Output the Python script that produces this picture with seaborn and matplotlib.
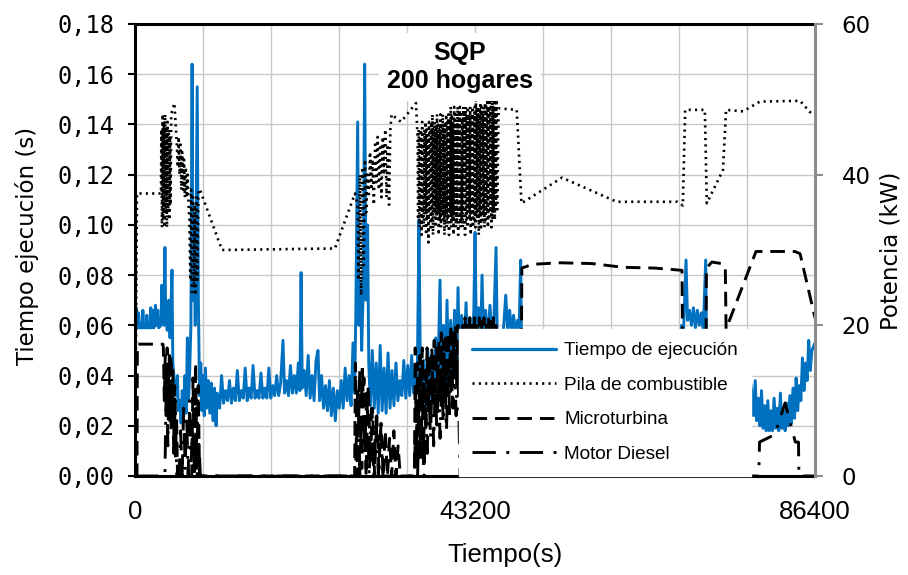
import numpy as np
import pandas as pd
import seaborn as sns
import matplotlib.pyplot as plt
from matplotlib.ticker import FuncFormatter
from matplotlib.lines import Line2D

# ---------------- data ----------------
# time axis (s) and execution time (s): (t, value) knots
exec_knots = [
    (0, 0.059), (150, 0.067), (300, 0.059), (450, 0.065), (600, 0.059), (900, 0.059),
    (1000, 0.066), (1100, 0.059), (1400, 0.059), (1500, 0.064), (1600, 0.059), (1900, 0.059),
    (2000, 0.067), (2100, 0.059), (2300, 0.066), (2400, 0.059), (2600, 0.068), (2700, 0.060),
    (2900, 0.066), (3000, 0.059), (3300, 0.060), (3400, 0.076), (3500, 0.062), (3700, 0.060),
    (3800, 0.091), (3900, 0.063), (4100, 0.058), (4300, 0.070), (4450, 0.055), (4700, 0.082),
    (4800, 0.045), (5000, 0.038), (5200, 0.032), (5400, 0.040), (5500, 0.026),
    (5700, 0.030), (5850, 0.021), (6000, 0.034), (6150, 0.023), (6350, 0.040), (6500, 0.025),
    (6650, 0.055), (6800, 0.030), (6950, 0.042), (7100, 0.060), (7250, 0.164), (7350, 0.070),
    (7500, 0.100), (7650, 0.060), (7900, 0.155), (8050, 0.070), (8200, 0.032), (8350, 0.045),
    (8500, 0.026), (8650, 0.040), (8800, 0.024), (8950, 0.043), (9100, 0.027), (9300, 0.038),
    (9500, 0.025), (9700, 0.037), (9900, 0.022), (10100, 0.035), (10300, 0.020), (10450, 0.033),
    (10750, 0.027), (11000, 0.040), (11250, 0.029), (11500, 0.034), (11750, 0.030), (12000, 0.038),
    (12250, 0.029), (12500, 0.035), (12750, 0.030), (13000, 0.042), (13250, 0.030), (13500, 0.034),
    (13750, 0.031), (14000, 0.043), (14250, 0.030), (14500, 0.035), (14750, 0.031), (15000, 0.044),
    (15250, 0.031), (15500, 0.034), (15750, 0.031), (16000, 0.041), (16250, 0.031), (16500, 0.035),
    (16750, 0.031), (17000, 0.043), (17250, 0.031), (17500, 0.036), (17750, 0.032), (18000, 0.040),
    (18250, 0.032), (18500, 0.037), (18800, 0.054), (19000, 0.033), (19250, 0.038), (19500, 0.032),
    (19750, 0.044), (20000, 0.033), (20250, 0.040), (20500, 0.033), (20750, 0.045), (20950, 0.034),
    (21100, 0.081), (21250, 0.035), (21500, 0.042), (21750, 0.032), (22000, 0.048), (22250, 0.031),
    (22500, 0.040), (22750, 0.030), (23000, 0.046), (23250, 0.050), (23450, 0.030),
    (23700, 0.040), (23950, 0.027), (24200, 0.036), (24450, 0.026), (24700, 0.038), (24950, 0.024),
    (25200, 0.035), (25450, 0.022), (25700, 0.034), (25950, 0.027),
    (26200, 0.038), (26450, 0.027), (26700, 0.043), (26950, 0.030), (27200, 0.040), (27450, 0.028),
    (27700, 0.053), (27900, 0.033), (28050, 0.063), (28290, 0.141), (28450, 0.060), (28650, 0.077),
    (28800, 0.050), (29000, 0.075), (29180, 0.164), (29350, 0.070), (29550, 0.100), (29700, 0.045),
    (29900, 0.028), (30150, 0.050), (30400, 0.027), (30650, 0.045), (30900, 0.025), (31150, 0.052),
    (31400, 0.026), (31650, 0.043), (31900, 0.025), (32150, 0.049), (32400, 0.027), (32650, 0.042),
    (32900, 0.028), (33150, 0.045), (33400, 0.030), (33650, 0.038),
    (33900, 0.032), (34150, 0.046), (34400, 0.031), (34650, 0.044), (34900, 0.032), (35150, 0.048),
    (35400, 0.033), (35650, 0.040), (35850, 0.035), (36080, 0.102), (36250, 0.045),
    (36450, 0.030), (36700, 0.046), (36950, 0.028), (37200, 0.050), (37450, 0.031), (37700, 0.048),
    (37950, 0.033), (38200, 0.055), (38450, 0.034), (38750, 0.078), (38950, 0.036), (39200, 0.060),
    (39450, 0.037), (39640, 0.070), (39850, 0.038), (40100, 0.062), (40350, 0.040), (40600, 0.066),
    (40850, 0.041), (41040, 0.075), (41250, 0.043), (41500, 0.064), (41750, 0.044), (42060, 0.069),
    (42300, 0.046), (42550, 0.063), (42800, 0.047), (43050, 0.066), (43200, 0.097), (43400, 0.049),
    (43650, 0.067), (43900, 0.050), (44090, 0.080), (44300, 0.052), (44550, 0.066), (44800, 0.053),
    (45100, 0.068), (45350, 0.054), (45600, 0.062), (45870, 0.091), (46050, 0.050),
    (46300, 0.045), (46600, 0.052), (46850, 0.060), (47100, 0.072), (47350, 0.058), (47600, 0.066),
    (47850, 0.057), (48100, 0.064), (48350, 0.056), (48600, 0.062), (48800, 0.058), (49000, 0.086),
    (49150, 0.040), (52000, 0.042), (56000, 0.040), (60000, 0.041), (64000, 0.040), (68000, 0.041),
    (69000, 0.045), (69450, 0.060), (69700, 0.058), (70010, 0.086), (70200, 0.062), (70450, 0.066),
    (70700, 0.060), (70950, 0.067), (71200, 0.059), (71450, 0.066), (71700, 0.060), (71950, 0.065),
    (72200, 0.058), (72510, 0.086), (72650, 0.040), (75000, 0.040), (78000, 0.042),
    (78400, 0.033), (78600, 0.024), (78800, 0.038), (79000, 0.022), (79200, 0.031), (79400, 0.020),
    (79600, 0.034), (79800, 0.019), (80000, 0.028), (80200, 0.018), (80400, 0.030), (80600, 0.018),
    (80800, 0.026), (81000, 0.018), (81200, 0.031), (81400, 0.019), (81600, 0.027), (81800, 0.018),
    (82000, 0.033), (82200, 0.019), (82400, 0.026), (82600, 0.018), (82800, 0.029), (83000, 0.020),
    (83200, 0.032), (83400, 0.021), (83600, 0.035), (83800, 0.023), (84000, 0.039), (84200, 0.026),
    (84400, 0.036), (84600, 0.030), (84800, 0.047), (85000, 0.034), (85200, 0.045), (85400, 0.038),
    (85600, 0.054), (85800, 0.042), (86000, 0.050), (86400, 0.053),
]

# power (kW). lists of (t, value) knots; tuples (t_start, t_end, values) are dense bursts
fc_parts = [
    [(0, 0), (250, 37.5), (3300, 37.5)],
    (3350, 4600, [46, 33, 48, 34, 47, 33, 48, 35, 46, 33, 47, 35, 46, 34, 45, 36, 48]),
    [(5000, 49.5)],
    (5200, 8050, [46, 44, 41, 45, 40, 44, 38, 43, 38, 42, 37, 41, 37, 40, 36, 34, 26, 38, 24, 37,
                  25, 36, 24, 37, 26, 38]),
    [(8250, 38), (11050, 30), (25400, 30.2), (27950, 37.5)],
    (28250, 32600, [36, 26, 40, 24, 41, 28, 42, 35, 40, 37, 43, 38, 42, 36, 44, 39, 45, 38, 44, 37,
                    45, 40, 46, 37, 44, 36, 46, 48]),
    [(33800, 47), (35700, 49.5)],
    (35900, 46000, [45, 34, 46, 33, 45, 35, 46, 32, 47, 34, 45, 33, 46, 35, 47, 32, 46, 34, 45, 31,
                    47, 35, 46, 33, 47, 34, 48, 32, 46, 35, 47, 33, 46, 34, 48, 35, 47, 32, 46, 34,
                    48, 33, 47, 35, 48, 34, 46, 32, 47, 35, 48, 33, 47, 34, 48, 32, 47, 35, 49, 33,
                    48, 34, 47, 32, 49, 35, 48, 33, 47, 34, 49, 32, 48, 35, 49, 33, 48, 34, 47, 33,
                    49, 35, 48, 32, 49, 34, 48, 33, 49, 35, 48, 34, 49, 32, 48, 35, 49, 33, 48, 34,
                    49, 33, 50, 35, 49, 34, 48, 32, 49, 35, 50, 33, 49, 34, 48, 35, 49, 33, 50, 34,
                    49, 35, 50, 33, 49, 34, 50, 35, 49, 33, 50, 34, 49, 35, 50, 34, 49, 36, 50, 35]),
    [(46200, 48.8), (48500, 48.6), (49100, 36.2), (54250, 39.6), (61200, 36.4), (68900, 36.4),
     (69600, 35.9), (69900, 48.6), (72400, 48.6), (72650, 36.2), (74700, 40.6), (75100, 48.6),
     (77250, 48.4), (79400, 49.7), (84500, 49.8), (85750, 48.3), (86400, 48.3)],
]

mt_parts = [
    [(0, 0), (250, 0), (300, 17.5), (3550, 17.5)],
    (3600, 5400, [17, 10, 16, 8, 17, 9, 15, 7, 16, 10, 14, 5, 12, 2, 8, 0]),
    [(5600, 0), (7100, 0)],
    (7200, 8200, [0, 13, 0, 15, 1, 12, 0]),
    [(8400, 0), (27900, 0)],
    (28000, 33700, [15, 0, 14, 1, 13, 0, 12, 2, 9, 0, 8, 1, 7, 0, 6, 0, 5, 0, 6, 0, 4, 0]),
    [(34000, 0), (35500, 0)],
    (35600, 46000, [17, 1, 15, 2, 16, 9, 17, 1, 14, 6, 17, 10, 16, 9, 17, 11, 18, 9, 17, 12,
                    18, 10, 19, 11, 18, 12, 19, 10, 19, 12, 20, 11, 19, 13, 20, 12, 20, 13, 19, 14,
                    20, 12, 21, 14, 20, 13, 21, 15, 20, 14, 21, 15, 20, 16, 21, 15, 20.5, 16, 21, 17,
                    20, 16, 21, 17, 20.5, 18, 21, 17, 20, 18]),
    [(46200, 0), (49000, 0), (49150, 27.6), (50500, 28.1), (54000, 28.3), (58000, 28.2),
     (62000, 27.7), (66000, 27.6), (69500, 27.3), (69700, 0), (72450, 0), (72600, 27.6),
     (73300, 28.4), (74500, 28.2), (75000, 27.6), (75100, 19.5), (78900, 29.8), (83850, 29.8),
     (84500, 29.5), (86400, 21)],
]

md_parts = [
    [(0, 0), (3700, 0)],
    (3800, 5300, [0, 14, 4, 16, 6, 12, 3, 10, 0]),
    [(5500, 0)],
    (5600, 8300, [0, 6, 0, 9, 1, 8, 0, 10, 2, 7, 0, 9, 0, 5, 0]),
    [(8500, 0), (27900, 0)],
    (28000, 31500, [0, 12, 0, 15, 3, 11, 0, 9, 0, 8, 0, 6, 0]),
    [(31800, 0), (35400, 0)],
    (35500, 41000, [0, 10, 0, 12, 2, 11, 0, 9, 3, 12, 5, 13, 4, 12, 6, 14, 5, 13, 7, 14,
                    6, 15, 8, 14, 9, 15, 8, 16]),
    [(41300, 0), (79250, 0), (79350, 4.5), (81300, 5.5), (82600, 9.7), (83900, 4.5),
     (84300, 4.5), (84350, 0), (86400, 0)],
]

labels = ["Tiempo de ejecución", "Pila de combustible", "Microturbina", "Motor Diesel"]


def build(parts):
    t, v = [], []
    for p in parts:
        if isinstance(p, tuple):  # dense burst spread over (t0, t1)
            t0, t1, vals = p
            t += list(np.linspace(t0, t1, len(vals)))
            v += list(vals)
        else:
            for a, b in p:
                t.append(a)
                v.append(b)
    return pd.DataFrame({"t": t, "v": v})


exec_df = pd.DataFrame(exec_knots, columns=["t", "v"])
fc_df = build(fc_parts)
mt_df = build(mt_parts)
md_df = build(md_parts)

# ---------------- styling ----------------
sns.set_style("white")
plt.rcParams["font.family"] = ["DejaVu Sans"]
plt.rcParams["text.color"] = "black"
plt.rcParams["xtick.color"] = "black"
plt.rcParams["ytick.color"] = "black"
plt.rcParams["axes.labelcolor"] = "black"

blue = "#0070C0"
dot_ls = (0, (0.8, 1.6))
dash_ls = (0, (5, 2.7))
dashdot_ls = (0, (8, 3.6, 1, 3.6))

fig = plt.figure(figsize=(9.08, 5.75), dpi=100)
ax = fig.add_axes([0.1487, 0.1722, 0.7489, 0.7861])
ax2 = ax.twinx()

sns.lineplot(data=exec_df, x="t", y="v", ax=ax, estimator=None, sort=False,
             color=blue, linewidth=2.1)
sns.lineplot(data=mt_df, x="t", y="v", ax=ax2, estimator=None, sort=False,
             color="black", linewidth=2.1, linestyle=dash_ls)
sns.lineplot(data=md_df, x="t", y="v", ax=ax2, estimator=None, sort=False,
             color="black", linewidth=2.1, linestyle=dashdot_ls)
sns.lineplot(data=fc_df, x="t", y="v", ax=ax2, estimator=None, sort=False,
             color="black", linewidth=1.9, linestyle=dot_ls)

ax.set_xlim(0, 86400)
ax.set_ylim(0, 0.18)
ax2.set_ylim(0, 60)
ax.set_xlabel("")
ax.set_ylabel("")
ax2.set_ylabel("")

ax.set_xticks([0, 43200, 86400])
ax.set_xticks(np.arange(0, 86401, 8640), minor=True)
ax.set_yticks(np.arange(0, 0.181, 0.02))
ax.yaxis.set_major_formatter(FuncFormatter(lambda y, _: f"{y:.2f}".replace(".", ",")))
ax2.set_yticks([0, 20, 40, 60])

ax.grid(True, which="both", color="#c8c8c8", linewidth=1.0)
ax.set_axisbelow(True)
ax2.grid(False)

for side in ["left", "bottom", "top"]:
    ax.spines[side].set_color("black")
    ax.spines[side].set_linewidth(2.2)
ax.spines["right"].set_visible(False)
for side in ["left", "bottom", "top"]:
    ax2.spines[side].set_visible(False)
ax2.spines["right"].set_color("#8c8c8c")
ax2.spines["right"].set_linewidth(2.2)

ax.tick_params(axis="x", which="major", direction="inout", length=10, width=1.5,
               labelsize=18.5, pad=12, colors="black")
ax.tick_params(axis="x", which="minor", length=0)
ax.tick_params(axis="y", direction="out", length=5, width=1.5, labelsize=17, pad=10,
               colors="black")
ax2.tick_params(axis="y", direction="out", length=6, width=1.5, color="#8c8c8c",
                labelcolor="black", labelsize=16.5, pad=13)
for lab in ax.get_xticklabels():
    lab.set_fontfamily(["Liberation Sans", "DejaVu Sans"])
for lab in ax.get_yticklabels():
    lab.set_fontfamily(["DejaVu Sans Mono"])

fig.text(0.0297, 0.572, "Tiempo ejecución (s)", rotation=90, ha="center", va="center",
         fontsize=16.5, color="black")
fig.text(0.981, 0.563, "Potencia (kW)", rotation=90, ha="center", va="center",
         fontsize=16.5, color="black")
fig.text(0.556, 0.035, "Tiempo(s)", ha="center", va="center", fontsize=18.5, color="black",
         family=["Liberation Sans", "DejaVu Sans"])

fig.text(0.5066, 0.8835, "SQP\n200 hogares", ha="center", va="center", fontsize=18,
         fontweight="bold", family=["Liberation Sans", "DejaVu Sans"], linespacing=1.2,
         color="black", bbox=dict(facecolor="white", edgecolor="none", pad=6))

handles = [
    Line2D([], [], color=blue, linewidth=2.3),
    Line2D([], [], color="black", linewidth=1.9, linestyle=dot_ls),
    Line2D([], [], color="black", linewidth=2.1, linestyle=dash_ls),
    Line2D([], [], color="black", linewidth=2.1, linestyle=dashdot_ls),
]
leg = ax2.legend(handles, labels, loc="lower left", bbox_to_anchor=(0.476, 0.0),
                 borderaxespad=0, frameon=True, fancybox=False, framealpha=1,
                 edgecolor="white", facecolor="white", handlelength=4.4,
                 handletextpad=0.45, labelspacing=0.9, borderpad=0.7,
                 prop={"family": ["Liberation Sans", "DejaVu Sans"], "size": 13.7})
for txt in leg.get_texts():
    txt.set_color("black")
leg.set_zorder(10)

fig.savefig("out.png", dpi=100)
